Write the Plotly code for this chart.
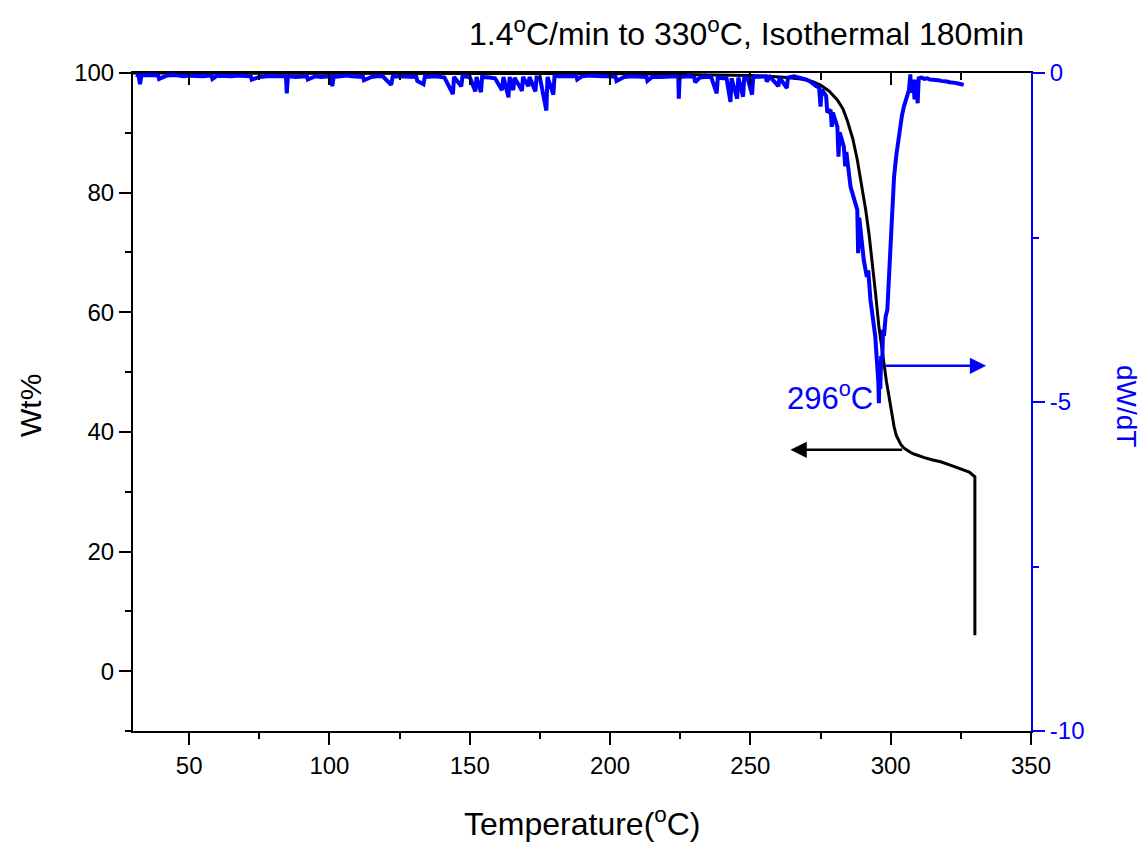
import plotly.graph_objects as go

# ---------------- data ----------------
# TGA weight curve (left axis)
tga_temp = [30, 100, 200, 250, 262, 268, 272, 275, 278, 281, 283, 284.5, 286.5, 288.1, 289.6,
            291.1, 292.3, 293.4, 294.6, 295.8, 296.7, 297.6, 298.5, 299.4, 300.3, 301.2,
            302.0, 302.8, 303.6, 304.7, 305.8, 307.0, 308.3, 310.0, 312.0, 315.0, 317.8,
            321.0, 324.9, 328.0, 330.0, 330.0]
tga_wt = [100, 100, 99.9, 99.6, 99.3, 99.0, 98.6, 98.0, 97.0, 95.5, 94.0, 92.1, 89.0, 85.5,
          81.5, 77.1, 73.0, 68.7, 63.2, 57.6, 54.2, 51.0, 48.4, 45.9, 43.2, 40.9,
          39.4, 38.5, 37.9, 37.3, 36.9, 36.6, 36.3, 36.0, 35.7, 35.3, 35.0,
          34.5, 33.9, 33.3, 32.5, 6.0]

# DTG curve (right axis)
dtg_temp = [31.0, 32.0, 32.5, 33.0, 36, 39, 39.3, 42, 45, 48, 50, 53, 55, 58, 58.3, 60, 63,
            65, 68, 70, 72, 72.3, 75, 78, 80, 82, 84.5, 84.8, 85.2, 88, 90, 92, 92.3, 95, 97,
            100.5, 101, 101.5, 104, 106, 108, 110, 112, 112.3, 115, 117, 119, 122, 122.5,
            124, 126, 128, 130, 131, 131.3, 133.5, 134, 136, 138, 141, 144, 144.4, 147,
            147.4, 150, 152, 152.4, 154, 154.4, 157, 159, 161.5, 162, 163.8, 164.2, 165.5,
            166, 168.6, 169, 170.9, 171.3, 173.4, 173.8, 175, 177.3, 177.7, 179.8, 180.2,
            183, 186, 188, 188.3, 190, 193, 195, 198, 200, 202, 202.3, 205, 208, 210, 213,
            213.3, 215, 218, 220, 222, 224.3, 224.5, 224.8, 228, 230, 230.3, 232, 234, 236,
            238, 238.4, 240, 241.5, 242.9, 243.3, 245.3, 245.7, 247.4, 247.8, 249, 250.6,
            251, 254, 255.5, 255.8, 257, 260, 260.4, 263, 263.4, 265.5, 268, 270, 271,
            272.5, 273.5, 274.5, 275, 275.4, 277, 277.4, 278.6, 279, 279.4, 281, 281.4,
            281.8, 283.3, 283.8, 284.2, 285.7, 286.2, 287, 288.1, 288.4, 288.8, 290.4,
            291.5, 292.0, 292.8, 294.5, 295.3, 295.6, 295.8, 296.0, 296.3, 296.6, 297.0,
            297.3, 297.6, 298.2, 298.8, 299.5, 300.5, 301.2, 302.0, 303.0, 304.0, 304.7,
            305.5, 306.5, 307.0, 307.3, 308.0, 308.5, 309.0, 309.6, 310.0, 311, 312, 313,
            314, 315, 316, 317, 318, 319, 320, 321, 322, 323, 324, 325, 326]
dtg_val = [-0.03, -0.04, -0.17, -0.04, -0.03, -0.04, -0.09, -0.04, -0.03, -0.05, -0.04, -0.05,
           -0.05, -0.04, -0.09, -0.04, -0.05, -0.05, -0.04, -0.04, -0.05, -0.10, -0.06,
           -0.05, -0.05, -0.06, -0.05, -0.31, -0.05, -0.06, -0.06, -0.05, -0.10, -0.05,
           -0.06, -0.05, -0.20, -0.06, -0.05, -0.04, -0.05, -0.05, -0.06, -0.11, -0.06,
           -0.05, -0.05, -0.18, -0.06, -0.05, -0.05, -0.06, -0.06, -0.06, -0.12, -0.17,
           -0.06, -0.06, -0.05, -0.07, -0.32, -0.06, -0.20, -0.05, -0.06, -0.28, -0.06,
           -0.29, -0.06, -0.07, -0.08, -0.26, -0.06, -0.37, -0.06, -0.26, -0.07, -0.27,
           -0.06, -0.20, -0.06, -0.28, -0.07, -0.07, -0.57, -0.06, -0.33, -0.05, -0.05,
           -0.04, -0.05, -0.10, -0.05, -0.04, -0.05, -0.05, -0.05, -0.06, -0.12, -0.06,
           -0.05, -0.05, -0.06, -0.12, -0.06, -0.06, -0.06, -0.06, -0.05, -0.39, -0.06,
           -0.05, -0.06, -0.14, -0.07, -0.06, -0.06, -0.31, -0.07, -0.08, -0.08, -0.44,
           -0.08, -0.39, -0.07, -0.36, -0.07, -0.08, -0.33, -0.06, -0.05, -0.05, -0.13,
           -0.06, -0.20, -0.07, -0.23, -0.07, -0.05, -0.07, -0.10, -0.12, -0.18, -0.20,
           -0.22, -0.51, -0.25, -0.35, -0.60, -0.56, -0.82, -0.60, -0.82, -1.27, -0.90,
           -1.12, -1.42, -1.20, -1.73, -1.80, -1.95, -2.08, -2.74, -2.20, -2.84, -3.10,
           -3.00, -3.45, -4.00, -4.40, -4.70, -5.02, -4.50, -4.80, -4.30, -4.35, -3.90,
           -4.00, -3.70, -3.60, -3.00, -2.44, -1.58, -1.25, -0.92, -0.65, -0.51, -0.40,
           -0.26, -0.02, -0.30, -0.10, -0.40, -0.10, -0.46, -0.08, -0.07, -0.09, -0.08,
           -0.10, -0.10, -0.11, -0.11, -0.12, -0.12, -0.13, -0.14, -0.14, -0.15, -0.16,
           -0.17, -0.18]

x_ticks = [50, 100, 150, 200, 250, 300, 350]
y_ticks = [0, 20, 40, 60, 80, 100]
y2_ticks = [0, -5, -10]
y2_ticktext = ["0", "-5", "-10"]

peak_label = "296<sup>o</sup>C"
title_text = "1.4<sup>o</sup>C/min to 330<sup>o</sup>C, Isothermal 180min"

BLUE = "#0000FF"
FONT = "Liberation Sans, Arial, sans-serif"

fig = go.Figure()
fig.add_trace(go.Scatter(x=tga_temp, y=tga_wt, mode="lines",
                         line=dict(color="black", width=3), yaxis="y", showlegend=False))
fig.add_trace(go.Scatter(x=dtg_temp, y=dtg_val, mode="lines",
                         line=dict(color=BLUE, width=4), yaxis="y2", showlegend=False))
# dummy trace so the mirrored top axis is drawn
fig.add_trace(go.Scatter(x=[None], y=[None], xaxis="x2", yaxis="y", showlegend=False,
                         hoverinfo="skip"))

fig.update_layout(
    width=1142, height=843,
    margin=dict(l=133, r=111, t=73, b=112),
    paper_bgcolor="white", plot_bgcolor="white",
    font=dict(family=FONT, size=24, color="black"),
    xaxis=dict(range=[30, 350], tickvals=x_ticks, ticks="outside", ticklen=12, tickwidth=2,
               tickcolor="black", showline=True, linecolor="black", linewidth=2,
               showgrid=False, zeroline=False, tickfont=dict(size=24),
               minor=dict(ticks="outside", dtick=25, tick0=0, ticklen=6, tickwidth=2,
                          tickcolor="black")),
    xaxis2=dict(range=[30, 350], overlaying="x", side="top", anchor="y",
                tickvals=x_ticks, ticks="inside", ticklen=12, tickwidth=2, tickcolor="black",
                showticklabels=False, showline=True, linecolor="black", linewidth=2,
                showgrid=False, zeroline=False,
                minor=dict(ticks="inside", dtick=25, tick0=0, ticklen=7, tickwidth=2,
                           tickcolor="black")),
    yaxis=dict(range=[-10, 100], tickvals=y_ticks, ticks="outside", ticklen=12, tickwidth=2,
               tickcolor="black", showline=True, linecolor="black", linewidth=2,
               showgrid=False, zeroline=False, tickfont=dict(size=24),
               minor=dict(ticks="outside", dtick=10, tick0=0, ticklen=6, tickwidth=2,
                          tickcolor="black")),
    yaxis2=dict(range=[-10, 0], overlaying="y", side="right", anchor="x",
                tickvals=y2_ticks, ticktext=y2_ticktext, ticks="outside", ticklen=12,
                tickwidth=2, tickcolor=BLUE,
                showline=True, linecolor=BLUE, linewidth=2, showgrid=False, zeroline=False,
                tickfont=dict(size=24, color=BLUE),
                minor=dict(ticks="outside", dtick=2.5, tick0=0, ticklen=6, tickwidth=2,
                           tickcolor=BLUE)),
)

annotations = [
    dict(text=title_text, xref="paper", yref="paper", x=1, y=(731 - 32) / 658,
         xanchor="right", yanchor="middle", xshift=-5, showarrow=False,
         font=dict(size=32, color="black")),
    dict(text="Temperature(<sup>o</sup>C)", xref="paper", yref="paper", x=0.5,
         y=(731 - 822) / 658, xanchor="center", yanchor="middle", showarrow=False,
         font=dict(size=32, color="black")),
    dict(text="Wt%", xref="paper", yref="paper", x=(31 - 133) / 898, y=(731 - 406) / 658,
         xanchor="center", yanchor="middle", textangle=-90, showarrow=False,
         font=dict(size=30, color="black")),
    dict(text="dW/dT", xref="paper", yref="paper", x=(1126 - 133) / 898, y=(731 - 406) / 658,
         xanchor="center", yanchor="middle", textangle=90, showarrow=False,
         font=dict(size=28, color=BLUE)),
    dict(text=peak_label, xref="x", yref="y2", x=278.2, y=-4.91, xanchor="center",
         yanchor="middle", showarrow=False, font=dict(size=31, color=BLUE)),
    # blue arrow pointing to the right axis
    dict(text="", xref="x", yref="y2", x=334.0, y=-4.45, axref="x", ayref="y2",
         ax=297.5, ay=-4.45, showarrow=True, arrowhead=2, arrowsize=1.3, arrowwidth=2.5,
         arrowcolor=BLUE),
    # black arrow pointing to the left axis
    dict(text="", xref="x", yref="y", x=264.3, y=37.0, axref="x", ayref="y",
         ax=304.6, ay=37.0, showarrow=True, arrowhead=2, arrowsize=1.3, arrowwidth=2.5,
         arrowcolor="black"),
]
fig.update_layout(annotations=annotations)

fig.write_html("out.html")
